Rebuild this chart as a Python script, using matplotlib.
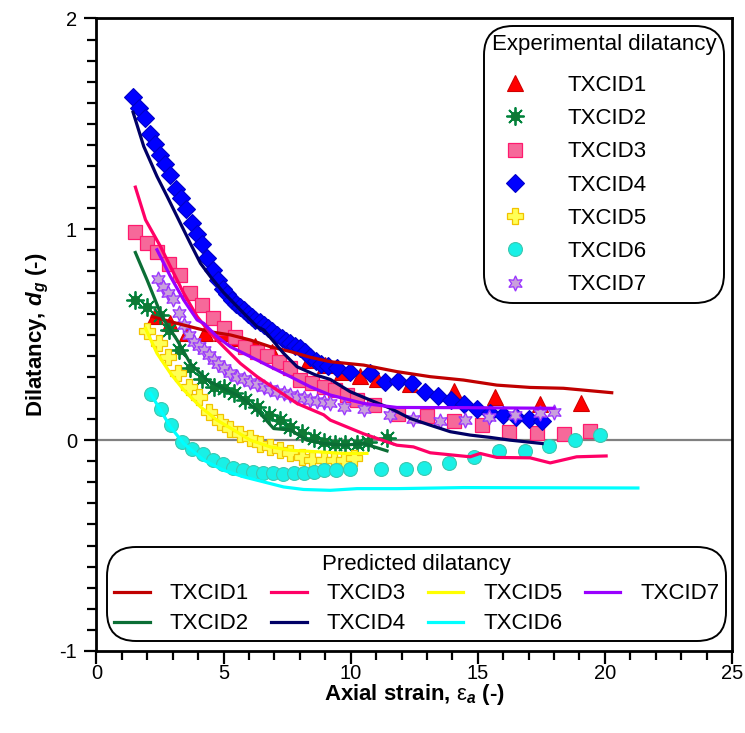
import matplotlib
matplotlib.use("Agg")
import matplotlib.pyplot as plt
from matplotlib.legend_handler import HandlerTuple
from matplotlib.ticker import MultipleLocator, FixedLocator

plt.rcParams["font.family"] = ["Liberation Sans", "DejaVu Sans"]
plt.rcParams["mathtext.fontset"] = "custom"
plt.rcParams["mathtext.rm"] = "Liberation Sans"
plt.rcParams["mathtext.it"] = "Liberation Sans:italic"
plt.rcParams["mathtext.bf"] = "Liberation Sans:italic:bold"
plt.rcParams["axes.unicode_minus"] = False

names = ["TXCID1", "TXCID2", "TXCID3", "TXCID4", "TXCID5", "TXCID6", "TXCID7"]

# ---- experimental dilatancy (markers) ----
exp1_x = [2.32, 2.91, 3.56, 4.28, 4.94, 5.59, 6.25, 6.91, 8.35, 9.0, 9.66, 10.35, 11.03, 12.34, 14.05, 15.68, 17.43, 19.05]
exp1_y = [0.589, 0.554, 0.510, 0.507, 0.510, 0.483, 0.447, 0.420, 0.380, 0.358, 0.325, 0.305, 0.288, 0.264, 0.233, 0.206, 0.171, 0.174]

exp2_x = [1.50, 1.99, 2.50, 2.84, 3.24, 3.69, 4.15, 4.61, 5.0, 5.40, 5.86, 6.32, 6.77, 7.23, 7.63, 8.09, 8.54, 8.94, 9.39, 9.79, 10.25, 10.70, 11.43]
exp2_y = [0.665, 0.633, 0.592, 0.523, 0.428, 0.341, 0.288, 0.253, 0.245, 0.222, 0.190, 0.158, 0.119, 0.095, 0.063, 0.032, 0.008, -0.008, -0.016, -0.016, -0.016, -0.008, 0.008]

exp3_x = [1.53, 1.97, 2.38, 2.84, 3.27, 3.69, 4.15, 4.59, 5.0, 5.43, 5.86, 6.30, 6.71, 7.17, 7.63, 8.02, 8.48, 8.94, 9.39, 9.85, 10.25, 10.90, 11.88, 13.02, 14.07, 15.16, 16.21, 17.32, 18.41, 19.42]
exp3_y = [0.985, 0.937, 0.893, 0.836, 0.782, 0.700, 0.639, 0.580, 0.530, 0.490, 0.443, 0.420, 0.399, 0.372, 0.341, 0.285, 0.269, 0.253, 0.238, 0.214, 0.190, 0.166, 0.123, 0.114, 0.092, 0.071, 0.040, 0.032, 0.028, 0.043]

exp4_x = [1.44, 1.68, 1.89, 2.10, 2.31, 2.49, 2.70, 2.91, 3.12, 3.33, 3.54, 3.75, 3.96, 4.17, 4.35, 4.59, 4.80, 4.98,
          5.15, 5.33, 5.50, 5.66, 5.80, 5.95, 6.10, 6.25, 6.42, 6.58, 6.75, 6.92, 7.10, 7.30, 7.47, 7.63, 7.82, 8.02,
          8.20, 8.40, 8.62, 8.85, 9.10, 9.46, 9.98, 10.77, 11.36, 11.88, 12.41, 12.93, 13.42, 13.94, 14.44, 14.96,
          15.49, 16.01, 16.51, 17.03, 17.53]
exp4_y = [1.628, 1.577, 1.526, 1.454, 1.406, 1.352, 1.308, 1.257, 1.190, 1.147, 1.096, 1.032, 0.979, 0.928, 0.865, 0.808, 0.760, 0.719,
          0.695, 0.665, 0.648, 0.633, 0.615, 0.600, 0.585, 0.572, 0.558, 0.546, 0.530, 0.516, 0.500, 0.483, 0.470, 0.459, 0.447, 0.435,
          0.418, 0.395, 0.375, 0.360, 0.350, 0.341, 0.325, 0.317, 0.277, 0.282, 0.269, 0.229, 0.209, 0.190, 0.171, 0.146,
          0.127, 0.119, 0.108, 0.098, 0.092]

exp5_x = [1.99, 2.45, 2.80, 3.20, 3.63, 4.02, 4.42, 4.87, 5.27, 5.66, 6.05, 6.45, 6.84, 7.23, 7.63, 8.09, 8.48, 8.94, 9.33, 9.72, 10.12]
exp5_y = [0.519, 0.462, 0.393, 0.317, 0.250, 0.203, 0.135, 0.087, 0.055, 0.029, 0.008, -0.016, -0.032, -0.048, -0.063, -0.082, -0.095, -0.095, -0.095, -0.095, -0.087]

exp6_x = [2.16, 2.55, 2.95, 3.37, 3.76, 4.18, 4.59, 4.98, 5.37, 5.77, 6.16, 6.55, 6.95, 7.34, 7.78, 8.18, 8.57, 8.96, 9.43, 9.96,
          11.20, 12.19, 12.89, 13.88, 14.86, 15.85, 16.84, 17.82, 18.83, 19.81]
exp6_y = [0.219, 0.150, 0.071, -0.008, -0.040, -0.067, -0.095, -0.111, -0.130, -0.143, -0.151, -0.155, -0.158, -0.162, -0.158, -0.155, -0.151, -0.143, -0.143, -0.139,
          -0.139, -0.137, -0.130, -0.108, -0.082, -0.051, -0.051, -0.029, 0.003, 0.024]

exp7_x = [2.41, 2.62, 2.82, 3.01, 3.24, 3.45, 3.65, 3.83, 4.02, 4.22, 4.42, 4.61, 4.80, 5.0, 5.27, 5.53, 5.80, 6.05, 6.32, 6.58, 6.84, 7.10,
          7.37, 7.63, 7.89, 8.15, 8.41, 8.67, 8.94, 9.20, 9.72, 10.51, 11.56, 12.47, 13.52, 14.50, 15.45, 16.45, 17.45, 18.0]
exp7_y = [0.766, 0.725, 0.697, 0.671, 0.602, 0.545, 0.500, 0.467, 0.447, 0.428, 0.402, 0.380, 0.360, 0.341, 0.320, 0.301, 0.288, 0.277, 0.265, 0.253, 0.241, 0.230,
          0.222, 0.214, 0.206, 0.198, 0.192, 0.187, 0.180, 0.174, 0.158, 0.150, 0.119, 0.098, 0.092, 0.095, 0.110, 0.120, 0.130, 0.135]

# ---- predicted dilatancy (lines) ----
pre1_x = [2.19, 2.91, 3.69, 4.48, 5.27, 6.05, 6.84, 7.63, 8.41, 9.20, 10.51, 11.82, 13.13, 14.44, 15.75, 17.06, 18.37, 20.27]
pre1_y = [0.586, 0.562, 0.538, 0.514, 0.499, 0.475, 0.443, 0.420, 0.393, 0.372, 0.356, 0.325, 0.301, 0.285, 0.261, 0.250, 0.246, 0.225]

pre2_x = [1.53, 1.99, 2.52, 2.65, 3.17, 3.69, 4.35, 5.0, 5.66, 6.32, 6.97, 7.63, 8.28, 8.94, 9.72, 10.51, 11.43]
pre2_y = [0.890, 0.760, 0.602, 0.570, 0.475, 0.364, 0.285, 0.245, 0.206, 0.143, 0.055, 0.048, 0.000, -0.016, -0.024, -0.016, -0.051]

pre3_x = [1.53, 1.93, 2.52, 2.91, 3.43, 3.96, 4.48, 5.0, 5.66, 6.32, 7.10, 7.89, 8.94, 9.20, 10.51, 11.82, 12.47, 13.13, 14.70, 15.09, 15.75, 17.06, 17.85, 18.89, 20.05]
pre3_y = [1.200, 1.045, 0.918, 0.823, 0.697, 0.586, 0.507, 0.443, 0.364, 0.301, 0.238, 0.174, 0.120, 0.095, 0.030, -0.024, -0.032, -0.060, -0.079, -0.063, -0.082, -0.084, -0.108, -0.079, -0.075]

pre4_x = [1.44, 1.86, 2.38, 2.78, 3.30, 3.69, 4.09, 4.48, 5.0, 5.66, 6.32, 6.58, 7.36, 7.89, 8.60, 9.20, 9.98, 10.77, 11.56, 12.34, 13.13, 13.92, 14.70, 15.49, 16.27, 17.53]
pre4_y = [1.555, 1.393, 1.251, 1.156, 1.029, 0.934, 0.839, 0.776, 0.700, 0.618, 0.538, 0.523, 0.412, 0.348, 0.310, 0.288, 0.230, 0.190, 0.151, 0.103, 0.071, 0.040, 0.024, 0.013, 0.000, -0.016]

pre5_x = [1.93, 2.38, 2.91, 3.43, 4.09, 4.74, 5.40, 6.05, 6.84, 7.63, 8.67, 9.72, 10.64]
pre5_y = [0.530, 0.412, 0.317, 0.238, 0.158, 0.095, 0.048, 0.000, -0.032, -0.048, -0.055, -0.063, -0.063]

pre6_x = [2.12, 2.91, 3.43, 4.22, 5.0, 5.79, 6.58, 7.36, 8.15, 9.20, 10.25, 11.82, 14.44, 21.30]
pre6_y = [0.222, 0.063, -0.016, -0.095, -0.143, -0.174, -0.198, -0.222, -0.234, -0.238, -0.230, -0.230, -0.225, -0.227]

pre7_x = [2.38, 2.91, 3.43, 3.96, 4.22, 4.74, 5.27, 6.05, 6.84, 7.63, 8.41, 9.20, 10.51, 11.82, 14.44, 18.0]
pre7_y = [0.903, 0.776, 0.665, 0.570, 0.554, 0.491, 0.443, 0.396, 0.348, 0.301, 0.253, 0.214, 0.174, 0.155, 0.154, 0.151]

x_ticks = [0, 5, 10, 15, 20, 25]
y_ticks = [-1, 0, 1, 2]
x_ticklabels = ["0", "5", "10", "15", "20", "25"]
y_ticklabels = ["-1", "0", "1", "2"]

fig = plt.figure(figsize=(7.45, 7.33), dpi=100)
ax = fig.add_axes([0.1295, 0.1119, 0.853, 0.8629])
ax.set_xlim(0, 25)
ax.set_ylim(-1, 2)

ax.axhline(0, color="#808080", lw=1.6, zorder=1)

ms = 10
m1, = ax.plot(exp1_x, exp1_y, ls="none", marker="^", ms=ms + 1, mfc="#FF0000", mec="#D00000", mew=0.8, zorder=3)
m2a, = ax.plot(exp2_x, exp2_y, ls="none", marker=(8, 2, 0), ms=ms + 3, mec="#00843D", mew=1.3, zorder=3)
m2b, = ax.plot(exp2_x, exp2_y, ls="none", marker="o", ms=6, mfc="#0E7A35", mec="#0E7A35", zorder=3)
m3, = ax.plot(exp3_x, exp3_y, ls="none", marker="s", ms=ms, mfc="#F6699A", mec="#FF1A6E", mew=0.9, zorder=3)
m4, = ax.plot(exp4_x, exp4_y, ls="none", marker="D", ms=ms - 1, mfc="#0000FF", mec="#0000C8", mew=0.8, zorder=3)
m5, = ax.plot(exp5_x, exp5_y, ls="none", marker="P", ms=ms + 1, mfc="#FFFF55", mec="#F2C200", mew=0.9, zorder=3)
m6, = ax.plot(exp6_x, exp6_y, ls="none", marker="o", ms=ms, mfc="#19F0E6", mec="#3CC8B0", mew=0.8, zorder=3)
m7, = ax.plot(exp7_x, exp7_y, ls="none", marker=(6, 1, 0), ms=ms + 1, mfc="#C9A0DC", mec="#9933FF", mew=0.9, zorder=3)

lw = 2.3
l1, = ax.plot(pre1_x, pre1_y, color="#C00000", lw=lw, zorder=4)
l2, = ax.plot(pre2_x, pre2_y, color="#0B6E35", lw=lw, zorder=4)
l3, = ax.plot(pre3_x, pre3_y, color="#FF0066", lw=lw, zorder=4)
l4, = ax.plot(pre4_x, pre4_y, color="#000066", lw=lw, zorder=4)
l5, = ax.plot(pre5_x, pre5_y, color="#FFFF00", lw=lw, zorder=4)
l6, = ax.plot(pre6_x, pre6_y, color="#00FFFF", lw=lw, zorder=4)
l7, = ax.plot(pre7_x, pre7_y, color="#9900FF", lw=lw, zorder=4)

# axes styling
for side in ["left", "bottom", "top", "right"]:
    ax.spines[side].set_linewidth(2.0)
ax.xaxis.set_major_locator(FixedLocator(x_ticks))
ax.yaxis.set_major_locator(FixedLocator(y_ticks))
ax.set_xticklabels(x_ticklabels)
ax.set_yticklabels(y_ticklabels)
ax.xaxis.set_minor_locator(MultipleLocator(1))
ax.yaxis.set_minor_locator(MultipleLocator(0.1))
ax.tick_params(which="major", direction="out", length=9, width=1.6, labelsize=14.5, pad=5,
               top=False, right=False)
ax.tick_params(axis="x", which="major", pad=0.5)
ax.tick_params(which="minor", direction="out", length=6.5, width=1.6, top=False, right=False)

ax.set_xlabel(r"Axial strain, $\mathrm{\varepsilon}_{\mathbf{a}}$ (-)", fontsize=16, fontweight="bold", labelpad=-0.5)
ax.set_ylabel(r"Dilatancy, $\mathbf{d_g}$ (-)", fontsize=16, fontweight="bold", labelpad=6)

# legends
fs = 16
leg1 = ax.legend([m1, (m2a, m2b), m3, m4, m5, m6, m7], names,
                 handler_map={tuple: HandlerTuple(ndivide=1)},
                 title="Experimental dilatancy", title_fontsize=fs, fontsize=fs,
                 loc="upper right", borderaxespad=0.35, borderpad=0.35, alignment="left",
                 handlelength=2.1, handletextpad=1.3, labelspacing=0.55,
                 frameon=True, fancybox=True, framealpha=1, edgecolor="black")
leg1.get_frame().set_boxstyle("round,pad=0,rounding_size=1.3")
leg1.get_frame().set_linewidth(1.4)
leg1._legend_box.sep = 0.9 * fs
ax.add_artist(leg1)

leg2 = ax.legend([l1, l2, l3, l4, l5, l6, l7], names, ncol=4,
                 title="Predicted dilatancy", title_fontsize=fs, fontsize=fs,
                 loc="lower center", bbox_to_anchor=(0.504, 0.0), borderaxespad=0.45, borderpad=0.3,
                 handlelength=1.6, handletextpad=0.9, labelspacing=0.4, columnspacing=1.0,
                 frameon=True, fancybox=True, framealpha=1, edgecolor="black")
leg2.get_frame().set_boxstyle("round,pad=0,rounding_size=1.3")
leg2.get_frame().set_linewidth(1.4)

fig.savefig("out.png", dpi=100)
